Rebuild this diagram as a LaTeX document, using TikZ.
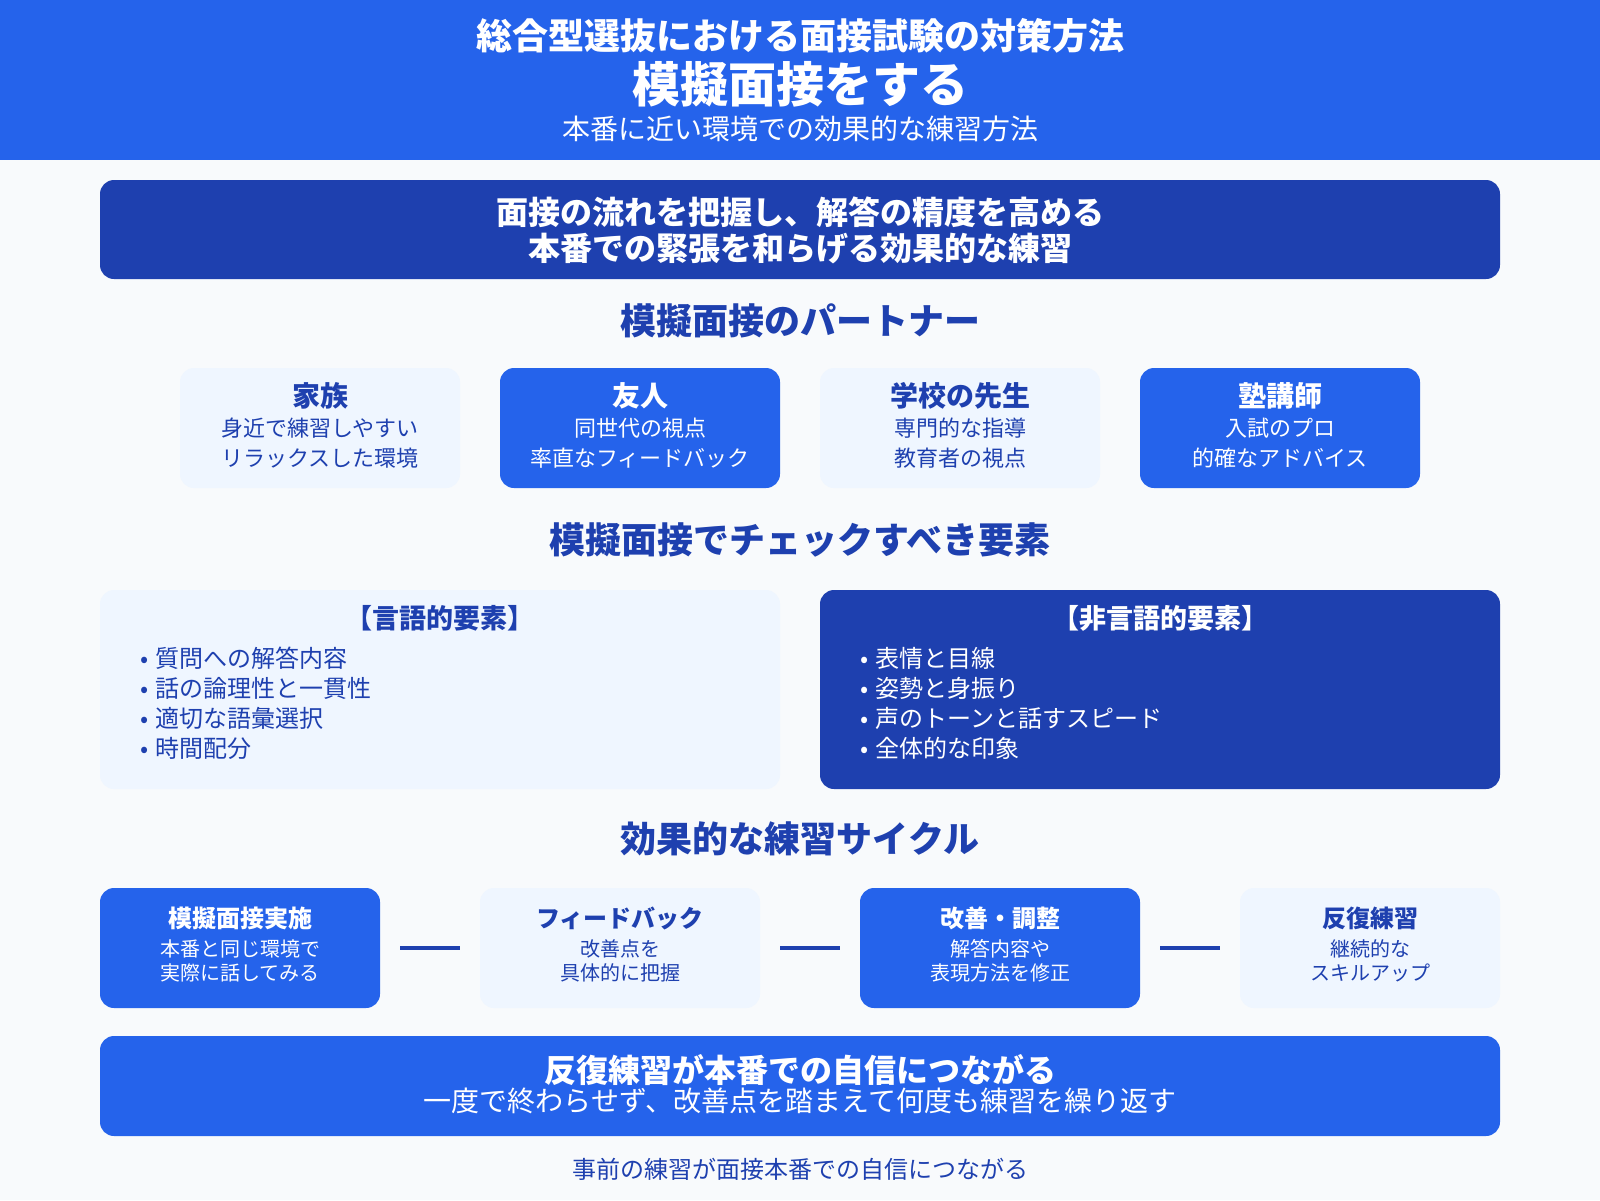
\documentclass[tikz,border=0pt]{standalone}
\usepackage{fontspec}
\setmainfont{Noto Sans CJK JP}
\definecolor{blueA}{HTML}{2563EB}
\definecolor{blueD}{HTML}{1E40AF}
\definecolor{blueL}{HTML}{EFF6FF}
\definecolor{bgpage}{HTML}{F8FAFC}
\tikzset{
  card/.style={rounded corners=7pt, inner sep=0pt, minimum height=#1},
  lightcard/.style={card=60pt, fill=blueL, minimum width=140pt},
  bluecard/.style={card=60pt, fill=blueA, minimum width=140pt},
  txt/.style={inner sep=0pt, font=\fontsize{#1pt}{#1pt}\selectfont},
  btxt/.style={inner sep=0pt, font=\fontsize{#1pt}{#1pt}\selectfont\bfseries},
  link/.style={draw=blueD, line width=2pt, shorten <=10pt, shorten >=10pt},
}
\begin{document}
\begin{tikzpicture}[x=0.5pt,y=-0.5pt]
  \useasboundingbox[fill=bgpage] (0,0) rectangle (1600,1200);
  % header
  \node[fill=blueA, inner sep=0pt, anchor=north west, minimum width=800pt, minimum height=80pt] (header) at (0,0) {};
  \node[btxt=18, text=white] (title) at (800,36) {総合型選抜における面接試験の対策方法};
  \node[btxt=24, text=white] (main) at (800,84) {模擬面接をする};
  \node[txt=14, text=white] (sub) at (800,129) {本番に近い環境での効果的な練習方法};
  % aim
  \node[card=49.5pt, fill=blueD, minimum width=700pt] (aim) at (800,229.5) {};
  \node[btxt=16, text=white] (aimA) at (800,212) {面接の流れを把握し、解答の精度を高める};
  \node[btxt=16, text=white] (aimB) at (800,249) {本番での緊張を和らげる効果的な練習};
  % partners
  \node[btxt=18, text=blueD] (headP) at (800,321) {模擬面接のパートナー};
  \node[lightcard] (kazoku) at (320,428) {};
  \node[bluecard] (yujin) at (640,428) {};
  \node[lightcard] (sensei) at (960,428) {};
  \node[bluecard] (juku) at (1280,428) {};
  \node[btxt=14, text=blueD] at (320,396) {家族};
  \node[txt=11, text=blueD] at (320,428) {身近で練習しやすい};
  \node[txt=11, text=blueD] at (320,458) {リラックスした環境};
  \node[btxt=14, text=white] at (640,396) {友人};
  \node[txt=11, text=white] at (640,428) {同世代の視点};
  \node[txt=11, text=white] at (640,458) {率直なフィードバック};
  \node[btxt=14, text=blueD] at (960,396) {学校の先生};
  \node[txt=11, text=blueD] at (960,428) {専門的な指導};
  \node[txt=11, text=blueD] at (960,458) {教育者の視点};
  \node[btxt=14, text=white] at (1280,396) {塾講師};
  \node[txt=11, text=white] at (1280,428) {入試のプロ};
  \node[txt=11, text=white] at (1280,458) {的確なアドバイス};
  % elements
  \node[btxt=18, text=blueD] (headE) at (800,540) {模擬面接でチェックすべき要素};
  \node[card=99.5pt, fill=blueL, minimum width=340pt] (verbal) at (440,689.5) {};
  \node[card=99.5pt, fill=blueD, minimum width=340pt] (nonverbal) at (1160,689.5) {};
  \node[btxt=13.5, text=blueD] at (440,618) {【言語的要素】};
  \node[btxt=13.5, text=white] at (1160,618) {【非言語的要素】};
  \foreach \t [count=\i] in {質問への解答内容,話の論理性と一貫性,適切な語彙選択,時間配分}
    \node[txt=12, text=blueD, anchor=west] at (140,628+30*\i) {•\hspace{3.5pt}\t};
  \foreach \t [count=\i] in {表情と目線,姿勢と身振り,声のトーンと話すスピード,全体的な印象}
    \node[txt=12, text=white, anchor=west] at (860,628+30*\i) {•\hspace{3.5pt}\t};
  % cycle
  \node[btxt=18, text=blueD] (headC) at (800,839) {効果的な練習サイクル};
  \node[bluecard] (jisshi) at (240,948) {};
  \node[lightcard] (fb) at (620,948) {};
  \node[bluecard] (kaizen) at (1000,948) {};
  \node[lightcard, minimum width=130pt] (hanpuku) at (1370,948) {};
  \draw[link] (jisshi) -- (fb);
  \draw[link] (fb) -- (kaizen);
  \draw[link] (kaizen) -- (hanpuku);
  \node[btxt=12, text=white] at (240,918) {模擬面接実施};
  \node[txt=10, text=white] at (240,949) {本番と同じ環境で};
  \node[txt=10, text=white] at (240,973) {実際に話してみる};
  \node[btxt=12, text=blueD] at (620,918) {フィードバック};
  \node[txt=10, text=blueD] at (620,949) {改善点を};
  \node[txt=10, text=blueD] at (620,973) {具体的に把握};
  \node[btxt=12, text=white] at (1000,918) {改善・調整};
  \node[txt=10, text=white] at (1000,949) {解答内容や};
  \node[txt=10, text=white] at (1000,973) {表現方法を修正};
  \node[btxt=12, text=blueD] at (1370,918) {反復練習};
  \node[txt=10, text=blueD] at (1370,949) {継続的な};
  \node[txt=10, text=blueD] at (1370,973) {スキルアップ};
  % conclusion
  \node[card=50pt, fill=blueA, minimum width=700pt] (result) at (800,1086) {};
  \node[btxt=16, text=white] (resA) at (800,1070) {反復練習が本番での自信につながる};
  \node[txt=14, text=white] (resB) at (800,1101) {一度で終わらせず、改善点を踏まえて何度も練習を繰り返す};
  \node[txt=12, text=blueD] (foot) at (800,1169) {事前の練習が面接本番での自信につながる};
\end{tikzpicture}
\end{document}
